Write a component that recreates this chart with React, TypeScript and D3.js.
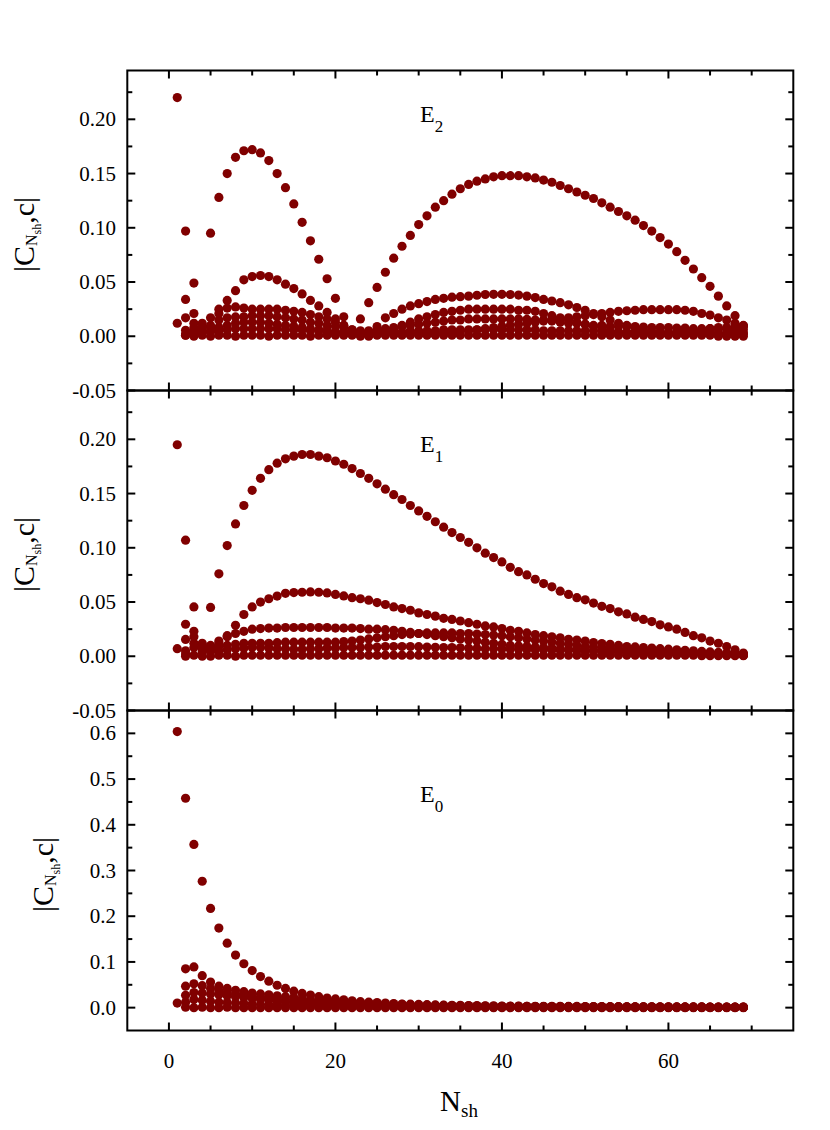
import React from "react";
import * as d3 from "d3";

// shell index N_sh = 1..69
const nsh = d3.range(1, 70);

// ---- E2 panel ----
const e2A = [
	0.220, 0.097, 0.049, 0.004, 0.095, 0.128, 0.150, 0.165, 0.171, 0.172,
	0.169, 0.162, 0.150, 0.137, 0.122, 0.105, 0.088, 0.071, 0.053, 0.035,
	0.018, 0.002, 0.016, 0.031, 0.045, 0.059, 0.072, 0.083, 0.093, 0.103,
	0.111, 0.119, 0.125, 0.131, 0.136, 0.140, 0.143, 0.145, 0.147, 0.148,
	0.148, 0.148, 0.147, 0.146, 0.144, 0.142, 0.139, 0.136, 0.133, 0.130,
	0.127, 0.123, 0.119, 0.115, 0.111, 0.107, 0.102, 0.097, 0.091, 0.085,
	0.078, 0.070, 0.062, 0.054, 0.046, 0.037, 0.028, 0.019, 0.010,
];
const e2B = [
	0.012, 0.034, 0.021, 0.008, 0.017, 0.021, 0.033, 0.042, 0.052, 0.055,
	0.056, 0.055, 0.052, 0.048, 0.044, 0.039, 0.033, 0.028, 0.022, 0.016,
	0.010, 0.005, 0.002, 0.004, 0.009, 0.017, 0.021, 0.025, 0.028, 0.030,
	0.032, 0.034, 0.035, 0.036, 0.0365, 0.037, 0.0378, 0.0385, 0.0387, 0.0387,
	0.0385, 0.038, 0.037, 0.0357, 0.034, 0.0325, 0.031, 0.029, 0.0265, 0.024,
	0.021, 0.018, 0.015, 0.012, 0.010, 0.008, 0.006, 0.004, 0.003, 0.002,
	0.003, 0.004, 0.005, 0.006, 0.007, 0.008, 0.008, 0.009, 0.009,
];
const e2C = [
	null, 0.017, 0.012, 0.012, 0.010, 0.025, 0.026, 0.027, 0.026, 0.025,
	0.025, 0.025, 0.025, 0.024, 0.023, 0.022, 0.020, 0.018, 0.016, 0.013,
	0.010, 0.006, 0.003, 0.001, 0.002, 0.004, 0.007, 0.010, 0.013, 0.016,
	0.018, 0.020, 0.022, 0.023, 0.024, 0.025, 0.025, 0.025, 0.025, 0.025,
	0.025, 0.024, 0.024, 0.023, 0.021, 0.019, 0.017, 0.015, 0.013, 0.011,
	0.009, 0.007, 0.005, 0.004, 0.003, 0.003, 0.002, 0.002, 0.002, 0.002,
	0.002, 0.002, 0.002, 0.002, 0.002, 0.002, 0.002, 0.002, 0.002,
];
const e2D = [
	null, 0.001, 0.005, 0.004, 0.004, 0.008, 0.010, 0.012, 0.013, 0.013,
	0.013, 0.012, 0.011, 0.010, 0.009, 0.008, 0.007, 0.006, 0.005, 0.004,
	0.003, 0.003, 0.003, 0.003, 0.003, 0.003, 0.003, 0.003, 0.003, 0.003,
	0.003, 0.003, 0.003, 0.003, 0.004, 0.005, 0.006, 0.007, 0.008, 0.009,
	0.010, 0.011, 0.012, 0.013, 0.014, 0.015, 0.016, 0.017, 0.018, 0.019,
	0.020, 0.021, 0.022, 0.023, 0.0235, 0.024, 0.0245, 0.0245, 0.0245, 0.0245,
	0.0245, 0.024, 0.023, 0.021, 0.0195, 0.017, 0.015, 0.012, 0.0095,
];
const e2E = [
	null, 0.0055, 0.008, 0.008, 0.008, 0.015, 0.017, 0.0178, 0.018, 0.019,
	0.019, 0.019, 0.018, 0.017, 0.016, 0.015, 0.013, 0.012, 0.010, 0.009,
	0.008, 0.006, 0.005, 0.005, 0.006, 0.007, 0.008, 0.009, 0.010, 0.011,
	0.012, 0.013, 0.014, 0.015, 0.015, 0.016, 0.016, 0.016, 0.016, 0.016,
	0.016, 0.016, 0.0155, 0.015, 0.015, 0.014, 0.013, 0.012, 0.012, 0.011,
	0.010, 0.010, 0.009, 0.009, 0.009, 0.009, 0.0085, 0.008, 0.008, 0.008,
	0.0075, 0.0075, 0.007, 0.007, 0.007, 0.0065, 0.0065, 0.006, 0.006,
];
const e2F = [
	null, 0.002, 0.004, 0.004, 0.005, 0.005, 0.006, 0.007, 0.007, 0.007,
	0.007, 0.007, 0.007, 0.006, 0.006, 0.006, 0.005, 0.005, 0.005, 0.004,
	0.004, 0.004, 0.003, 0.003, 0.003, 0.004, 0.004, 0.004, 0.005, 0.005,
	0.005, 0.005, 0.006, 0.006, 0.006, 0.006, 0.006, 0.006, 0.006, 0.006,
	0.006, 0.006, 0.006, 0.006, 0.005, 0.005, 0.005, 0.005, 0.005, 0.005,
	0.005, 0.004, 0.004, 0.004, 0.004, 0.004, 0.004, 0.004, 0.004, 0.004,
	0.004, 0.004, 0.004, 0.003, 0.003, 0.003, 0.003, 0.003, 0.003,
];
const e2G = [
	null, 0.001, 0.000, 0.001, 0.000, 0.001, 0.001, 0.000, 0.001, 0.001,
	0.001, 0.000, 0.001, 0.001, 0.001, 0.001, 0.000, 0.001, 0.001, 0.001,
	0.001, 0.001, 0.000, 0.000, 0.001, 0.001, 0.001, 0.001, 0.001, 0.001,
	0.001, 0.001, 0.001, 0.001, 0.001, 0.001, 0.001, 0.001, 0.001, 0.001,
	0.001, 0.001, 0.001, 0.001, 0.001, 0.001, 0.001, 0.001, 0.001, 0.001,
	0.001, 0.001, 0.001, 0.001, 0.001, 0.001, 0.001, 0.001, 0.001, 0.001,
	0.001, 0.001, 0.001, 0.001, 0.001, 0.000, 0.000, 0.000, 0.000,
];

// ---- E1 panel ----
const e1A = [
	0.195, 0.107, 0.0455, 0.004, 0.045, 0.076, 0.102, 0.122, 0.139, 0.153,
	0.164, 0.172, 0.178, 0.182, 0.1845, 0.186, 0.186, 0.1845, 0.183, 0.180,
	0.177, 0.173, 0.1685, 0.164, 0.159, 0.154, 0.149, 0.1445, 0.139, 0.134,
	0.129, 0.124, 0.119, 0.114, 0.1095, 0.105, 0.100, 0.095, 0.091, 0.087,
	0.082, 0.078, 0.075, 0.071, 0.067, 0.064, 0.060, 0.057, 0.054, 0.052,
	0.049, 0.046, 0.044, 0.041, 0.039, 0.036, 0.034, 0.032, 0.029, 0.027,
	0.025, 0.022, 0.019, 0.017, 0.014, 0.012, 0.009, 0.006, 0.003,
];
const e1B = [
	0.007, 0.0295, 0.023, 0.010, 0.008, 0.012, 0.019, 0.0285, 0.0385, 0.0455,
	0.050, 0.053, 0.0555, 0.058, 0.0587, 0.059, 0.0593, 0.059, 0.0584, 0.057,
	0.0556, 0.054, 0.053, 0.0517, 0.0495, 0.0477, 0.0455, 0.044, 0.0424, 0.040,
	0.0385, 0.037, 0.035, 0.034, 0.0325, 0.031, 0.0295, 0.028, 0.027, 0.0255,
	0.024, 0.023, 0.0215, 0.020, 0.019, 0.018, 0.017, 0.0157, 0.015, 0.014,
	0.0126, 0.0117, 0.011, 0.010, 0.009, 0.0086, 0.008, 0.0075, 0.007, 0.0065,
	0.006, 0.0055, 0.005, 0.0045, 0.004, 0.0035, 0.003, 0.0025, 0.002,
];
const e1C = [
	null, 0.0155, 0.018, 0.008, 0.006, 0.014, 0.018, 0.021, 0.023, 0.025,
	0.0255, 0.026, 0.026, 0.0265, 0.0265, 0.0265, 0.0265, 0.0265, 0.0265, 0.026,
	0.026, 0.026, 0.0255, 0.025, 0.025, 0.0245, 0.024, 0.023, 0.022, 0.021,
	0.020, 0.019, 0.018, 0.017, 0.016, 0.015, 0.014, 0.013, 0.012, 0.011,
	0.010, 0.0095, 0.009, 0.0085, 0.008, 0.0075, 0.007, 0.0065, 0.006, 0.0055,
	0.005, 0.005, 0.0045, 0.0045, 0.004, 0.004, 0.0035, 0.0035, 0.003, 0.003,
	0.003, 0.0025, 0.0025, 0.002, 0.002, 0.002, 0.0015, 0.0015, 0.001,
];
const e1D = [
	null, 0.005, 0.012, 0.012, 0.010, 0.009, 0.010, 0.011, 0.012, 0.012,
	0.012, 0.012, 0.0125, 0.013, 0.013, 0.013, 0.013, 0.013, 0.013, 0.013,
	0.0135, 0.014, 0.015, 0.016, 0.017, 0.018, 0.019, 0.020, 0.0205, 0.021,
	0.0215, 0.0215, 0.0215, 0.0215, 0.021, 0.021, 0.0205, 0.020, 0.0195, 0.019,
	0.018, 0.017, 0.016, 0.015, 0.014, 0.013, 0.012, 0.011, 0.010, 0.009,
	0.0085, 0.008, 0.0075, 0.007, 0.0065, 0.006, 0.0055, 0.005, 0.0045, 0.004,
	0.004, 0.0035, 0.003, 0.003, 0.0025, 0.002, 0.002, 0.0015, 0.001,
];
const e1E = [
	null, 0.002, 0.008, 0.006, 0.004, 0.005, 0.006, 0.007, 0.0075, 0.008,
	0.008, 0.0075, 0.007, 0.007, 0.0065, 0.0065, 0.007, 0.007, 0.0075, 0.0075,
	0.008, 0.008, 0.008, 0.0085, 0.0085, 0.009, 0.009, 0.009, 0.009, 0.0088,
	0.0085, 0.0082, 0.008, 0.008, 0.0078, 0.0075, 0.0072, 0.007, 0.007, 0.0068,
	0.0065, 0.0065, 0.0062, 0.006, 0.006, 0.0058, 0.0056, 0.0055, 0.0054, 0.005,
	0.005, 0.0048, 0.0045, 0.0045, 0.0042, 0.004, 0.004, 0.0036, 0.0035, 0.0032,
	0.003, 0.003, 0.0026, 0.0025, 0.0022, 0.002, 0.002, 0.0016, 0.0015,
];
const e1F = [
	null, 0.000, 0.001, 0.000, 0.000, 0.001, 0.001, 0.000, 0.001, 0.001,
	0.001, 0.001, 0.001, 0.001, 0.001, 0.001, 0.001, 0.001, 0.001, 0.001,
	0.001, 0.001, 0.001, 0.001, 0.001, 0.001, 0.001, 0.001, 0.001, 0.001,
	0.001, 0.001, 0.001, 0.001, 0.001, 0.001, 0.001, 0.001, 0.001, 0.001,
	0.001, 0.001, 0.001, 0.001, 0.001, 0.001, 0.001, 0.001, 0.001, 0.001,
	0.001, 0.001, 0.001, 0.001, 0.001, 0.001, 0.001, 0.001, 0.001, 0.001,
	0.001, 0.001, 0.001, 0.0005, 0.0005, 0.0005, 0.0005, 0.0005, 0.0005,
];

// ---- E0 panel ----
const e0A = [
	0.604, 0.458, 0.357, 0.2765, 0.217, 0.174, 0.141, 0.115, 0.096, 0.081,
	0.068, 0.058, 0.049, 0.042, 0.036, 0.031, 0.0275, 0.024, 0.021, 0.019,
	0.017, 0.015, 0.013, 0.012, 0.011, 0.010, 0.009, 0.008, 0.0075, 0.007,
	0.0065, 0.006, 0.0055, 0.005, 0.005, 0.0045, 0.0045, 0.004, 0.004, 0.0035,
	0.0035, 0.0035, 0.003, 0.003, 0.003, 0.003, 0.0028, 0.0027, 0.0026, 0.0025,
	0.0024, 0.0023, 0.0022, 0.0021, 0.002, 0.002, 0.0019, 0.0018, 0.0018, 0.0017,
	0.0016, 0.0016, 0.0015, 0.0015, 0.0014, 0.0014, 0.0013, 0.0013, 0.0012,
];
const e0B = [
	0.010, 0.085, 0.089, 0.070, 0.056, 0.047, 0.042, 0.038, 0.035, 0.032,
	0.030, 0.028, 0.026, 0.024, 0.022, 0.020, 0.018, 0.016, 0.015, 0.014,
	0.013, 0.012, 0.011, 0.010, 0.009, 0.008, 0.0075, 0.007, 0.0065, 0.006,
	0.0055, 0.005, 0.005, 0.0045, 0.004, 0.004, 0.0035, 0.0035, 0.003, 0.003,
	0.003, 0.0028, 0.0026, 0.0025, 0.0024, 0.0023, 0.0022, 0.0021, 0.002, 0.002,
	0.0019, 0.0018, 0.0018, 0.0017, 0.0016, 0.0016, 0.0015, 0.0015, 0.0014, 0.0014,
	0.0013, 0.0013, 0.0012, 0.0012, 0.0011, 0.0011, 0.001, 0.001, 0.001,
];
const e0C = [
	null, 0.047, 0.052, 0.048, 0.042, 0.037, 0.033, 0.030, 0.027, 0.025,
	0.023, 0.021, 0.019, 0.017, 0.015, 0.013, 0.012, 0.011, 0.010, 0.009,
	0.008, 0.0075, 0.007, 0.0065, 0.006, 0.0055, 0.005, 0.0045, 0.004, 0.004,
	0.0035, 0.0035, 0.003, 0.003, 0.003, 0.0028, 0.0026, 0.0025, 0.0024, 0.0023,
	0.0022, 0.0021, 0.002, 0.002, 0.0019, 0.0018, 0.0018, 0.0017, 0.0016, 0.0016,
	0.0015, 0.0015, 0.0014, 0.0014, 0.0013, 0.0013, 0.0012, 0.0012, 0.0011, 0.0011,
	0.001, 0.001, 0.001, 0.001, 0.0009, 0.0009, 0.0009, 0.0008, 0.0008,
];
const e0D = [
	null, 0.027, 0.033, 0.032, 0.030, 0.028, 0.026, 0.024, 0.022, 0.020,
	0.018, 0.016, 0.014, 0.012, 0.011, 0.010, 0.009, 0.008, 0.007, 0.0065,
	0.006, 0.0055, 0.005, 0.0045, 0.004, 0.004, 0.0035, 0.0035, 0.003, 0.003,
	0.0028, 0.0026, 0.0025, 0.0024, 0.0022, 0.0021, 0.002, 0.0019, 0.0018, 0.0018,
	0.0017, 0.0016, 0.0016, 0.0015, 0.0015, 0.0014, 0.0014, 0.0013, 0.0013, 0.0012,
	0.0012, 0.0011, 0.0011, 0.001, 0.001, 0.001, 0.001, 0.0009, 0.0009, 0.0009,
	0.0008, 0.0008, 0.0008, 0.0008, 0.0007, 0.0007, 0.0007, 0.0007, 0.0007,
];
const e0E = [
	null, 0.012, 0.018, 0.016, 0.014, 0.012, 0.011, 0.010, 0.009, 0.008,
	0.007, 0.006, 0.0055, 0.005, 0.0045, 0.004, 0.004, 0.0035, 0.003, 0.003,
	0.0028, 0.0026, 0.0024, 0.0022, 0.002, 0.002, 0.0018, 0.0017, 0.0016, 0.0015,
	0.0014, 0.0014, 0.0013, 0.0012, 0.0012, 0.0011, 0.0011, 0.001, 0.001, 0.001,
	0.0009, 0.0009, 0.0009, 0.0008, 0.0008, 0.0008, 0.0008, 0.0007, 0.0007, 0.0007,
	0.0007, 0.0006, 0.0006, 0.0006, 0.0006, 0.0006, 0.0005, 0.0005, 0.0005, 0.0005,
	0.0005, 0.0005, 0.0005, 0.0005, 0.0004, 0.0004, 0.0004, 0.0004, 0.0004,
];
const e0F = [
	null, 0.001, 0.000, 0.001, 0.000, 0.000, 0.001, 0.000, 0.000, 0.000,
	0.000, 0.000, 0.000, 0.000, 0.000, 0.000, 0.000, 0.000, 0.000, 0.000,
	0.000, 0.000, 0.000, 0.000, 0.000, 0.000, 0.000, 0.000, 0.000, 0.000,
	0.000, 0.000, 0.000, 0.000, 0.000, 0.000, 0.000, 0.000, 0.000, 0.000,
	0.000, 0.000, 0.000, 0.000, 0.000, 0.000, 0.000, 0.000, 0.000, 0.000,
	0.000, 0.000, 0.000, 0.000, 0.000, 0.000, 0.000, 0.000, 0.000, 0.000,
	0.000, 0.000, 0.000, 0.000, 0.000, 0.000, 0.000, 0.000, 0.000,
];

// axis ticks
const xMajor = [0, 20, 40, 60];
const xMinor = [5, 10, 15, 25, 30, 35, 45, 50, 55, 65, 70];
const ySmallMajor = [-0.05, 0, 0.05, 0.1, 0.15, 0.2];
const ySmallMinor = [-0.025, 0.025, 0.075, 0.125, 0.175, 0.225];
const yBigMajor = [0, 0.1, 0.2, 0.3, 0.4, 0.5, 0.6];
const yBigMinor = [0.05, 0.15, 0.25, 0.35, 0.45, 0.55];

const FONT = "'Liberation Serif', 'Times New Roman', serif";
const DOT = "#800000";
const LEFT = 127.3;
const RIGHT = 793.3;
const PANEL_H = 320;

const x = d3.scaleLinear().domain([-5, 75]).range([LEFT, RIGHT]);

type Series = (number | null)[];

interface PanelProps {
	top: number;
	domain: [number, number];
	major: number[];
	minor: number[];
	digits: number;
	series: Series[];
	sub: string;
	labelY: number;
	titleX: number;
}

const Panel: React.FC<PanelProps> = ({top, domain, major, minor, digits, series, sub, labelY, titleX}) => {
	const bottom = top + PANEL_H;
	const y = d3.scaleLinear().domain(domain).range([bottom, top]);
	const tick = {stroke: "#000", strokeWidth: 2};
	return (
		<g>
			{/* dots */}
			{series.map((s, si) =>
				s.map((v, i) =>
					v == null ? null : (
						<circle key={`${si}-${i}`} cx={x(nsh[i])} cy={y(v)} r={4.6} fill={DOT} />
					)
				)
			)}
			{/* y ticks, inward on both sides */}
			{major.map((t) => (
				<g key={`ym${t}`}>
					<line x1={LEFT} x2={LEFT + 8} y1={y(t)} y2={y(t)} {...tick} />
					<line x1={RIGHT} x2={RIGHT - 8} y1={y(t)} y2={y(t)} {...tick} />
					<text x={116} y={y(t) + 7} textAnchor="end" fontSize={21} fontFamily={FONT}>
						{t.toFixed(digits)}
					</text>
				</g>
			))}
			{minor.map((t) => (
				<g key={`yn${t}`}>
					<line x1={LEFT} x2={LEFT + 5} y1={y(t)} y2={y(t)} {...tick} />
					<line x1={RIGHT} x2={RIGHT - 5} y1={y(t)} y2={y(t)} {...tick} />
				</g>
			))}
			{/* x ticks, inward on top and bottom */}
			{xMajor.map((t) => (
				<g key={`xm${t}`}>
					<line x1={x(t)} x2={x(t)} y1={top} y2={top + 8} {...tick} />
					<line x1={x(t)} x2={x(t)} y1={bottom} y2={bottom - 8} {...tick} />
				</g>
			))}
			{xMinor.map((t) => (
				<g key={`xn${t}`}>
					<line x1={x(t)} x2={x(t)} y1={top} y2={top + 5} {...tick} />
					<line x1={x(t)} x2={x(t)} y1={bottom} y2={bottom - 5} {...tick} />
				</g>
			))}
			<rect x={LEFT} y={top} width={RIGHT - LEFT} height={PANEL_H} fill="none" stroke="#000" strokeWidth={2} />
			{/* state label */}
			<text x={420} y={labelY} fontSize={24} fontFamily={FONT}>
				E<tspan fontSize={17} dy={10}>{sub}</tspan>
			</text>
			{/* y title */}
			<text
				transform={`translate(${titleX},${top + PANEL_H / 2 + 4}) rotate(-90)`}
				textAnchor="middle"
				fontSize={30}
				fontFamily={FONT}
			>
				|C
				<tspan fontSize={16} dy={3}>N</tspan>
				<tspan fontSize={12} dy={4}>sh</tspan>
				<tspan fontSize={30} dy={-7}>,c|</tspan>
			</text>
		</g>
	);
};

const App: React.FC = () => {
	return (
		<svg
			width={830}
			height={1130}
			style={{position: "absolute", left: 0, top: 0, background: "#fff"}}
		>
			<rect width={830} height={1130} fill="#fff" />
			<Panel
				top={70.5}
				domain={[-0.05, 0.245]}
				major={ySmallMajor}
				minor={ySmallMinor}
				digits={2}
				series={[e2G, e2F, e2E, e2D, e2C, e2B, e2A]}
				sub="2"
				labelY={122}
				titleX={34}
			/>
			<Panel
				top={390.5}
				domain={[-0.05, 0.245]}
				major={ySmallMajor}
				minor={ySmallMinor}
				digits={2}
				series={[e1F, e1E, e1D, e1C, e1B, e1A]}
				sub="1"
				labelY={452}
				titleX={34}
			/>
			<Panel
				top={710.5}
				domain={[-0.05, 0.65]}
				major={yBigMajor}
				minor={yBigMinor}
				digits={1}
				series={[e0F, e0E, e0D, e0C, e0B, e0A]}
				sub="0"
				labelY={802}
				titleX={53}
			/>
			{/* x tick labels */}
			{xMajor.map((t) => (
				<text key={t} x={x(t)} y={1068} textAnchor="middle" fontSize={21} fontFamily={FONT}>
					{t}
				</text>
			))}
			<text x={459} y={1111} textAnchor="middle" fontSize={29} fontFamily={FONT}>
				N<tspan fontSize={19} dy={6}>sh</tspan>
			</text>
		</svg>
	);
};

export default App;
